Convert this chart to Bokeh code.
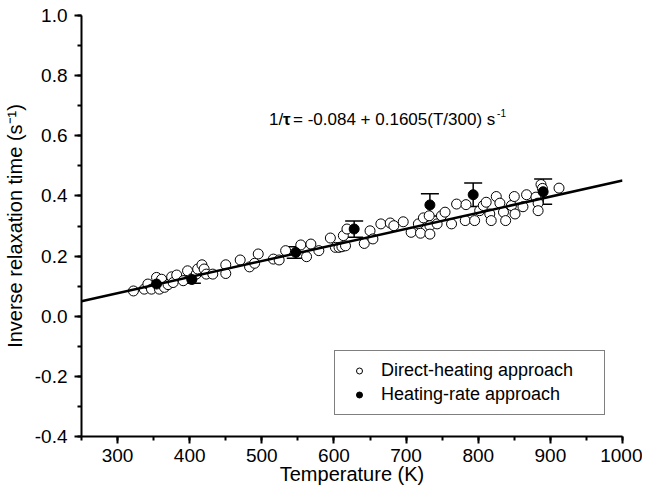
from bokeh.plotting import figure
from bokeh.models import (Range1d, SingleIntervalTicker, PrintfTickFormatter, ColumnDataSource,
                          Whisker, TeeHead, Legend, LegendItem, Label)
from bokeh.embed import file_html
from bokeh.resources import INLINE

# ---- data ----
T_direct = [322, 337, 342, 347, 354, 358, 361, 365, 370, 375,
            377, 382, 391, 397, 403, 409, 411, 417, 420, 423,
            432, 450, 450, 470, 483, 490, 495, 516, 524, 533,
            554, 562, 568, 579, 595, 602, 607, 611, 613, 616,
            618, 642, 650, 654, 665, 678, 683, 696, 707, 717,
            720, 724, 732, 733, 733, 743, 749, 754, 763, 770,
            782, 783, 795, 802, 807, 811, 816, 818, 825, 830,
            835, 838, 846, 850, 851, 862, 867, 880, 883, 883,
            887, 889, 912]
inv_tau_direct = [0.084, 0.090, 0.107, 0.090, 0.129, 0.090, 0.123, 0.096, 0.105, 0.131,
                  0.112, 0.137, 0.118, 0.151, 0.125, 0.140, 0.157, 0.171, 0.157, 0.140,
                  0.140, 0.171, 0.142, 0.187, 0.164, 0.176, 0.207, 0.190, 0.187, 0.218,
                  0.237, 0.198, 0.240, 0.218, 0.260, 0.229, 0.229, 0.231, 0.268, 0.234,
                  0.290, 0.242, 0.284, 0.257, 0.307, 0.310, 0.301, 0.314, 0.279, 0.307,
                  0.276, 0.327, 0.334, 0.301, 0.273, 0.307, 0.334, 0.346, 0.307, 0.373,
                  0.318, 0.371, 0.318, 0.351, 0.368, 0.379, 0.340, 0.318, 0.398, 0.376,
                  0.346, 0.318, 0.368, 0.398, 0.340, 0.364, 0.404, 0.396, 0.376, 0.351,
                  0.438, 0.425, 0.426]

T_rate = [354, 403, 547, 628, 733, 793, 890]
inv_tau_rate = [0.107, 0.122, 0.212, 0.290, 0.370, 0.404, 0.414]
err_rate = [0.010, 0.012, 0.019, 0.027, 0.037, 0.039, 0.042]

fit_intercept = -0.084
fit_slope = 0.1605
fit_T = [250, 1000]
fit_y = [fit_intercept + fit_slope * t / 300 for t in fit_T]

x_ticks_interval = 100
y_ticks_interval = 0.2

FONT = "Liberation Sans"

p = figure(width=642, height=487, output_backend="svg", toolbar_location=None,
           x_range=Range1d(250, 1000), y_range=Range1d(-0.4, 1.0),
           min_border_left=78, min_border_right=20, min_border_top=15, min_border_bottom=0)
p.outline_line_color = None
p.grid.visible = False
p.background_fill_color = "white"
p.border_fill_color = "white"

# axes
p.xaxis.ticker = SingleIntervalTicker(interval=x_ticks_interval, num_minor_ticks=2)
p.yaxis.ticker = SingleIntervalTicker(interval=y_ticks_interval, num_minor_ticks=2)
p.yaxis.formatter = PrintfTickFormatter(format="%.1f")
p.xaxis.axis_label = "Temperature (K)"
p.yaxis.axis_label = "Inverse relaxation time (s\u207b\u00b9)"
for ax in (p.xaxis[0], p.yaxis[0]):
    ax.axis_line_width = 2
    ax.axis_line_color = "black"
    ax.major_tick_line_width = 2
    ax.minor_tick_line_width = 2
    ax.major_tick_line_color = "black"
    ax.minor_tick_line_color = "black"
    ax.major_tick_out = 7
    ax.major_tick_in = 0
    ax.minor_tick_out = 4
    ax.minor_tick_in = 0
    ax.major_label_text_font = FONT
    ax.major_label_text_font_size = "19px"
    ax.major_label_text_color = "black"
    ax.axis_label_text_font = FONT
    ax.axis_label_text_font_size = "20px"
    ax.axis_label_text_font_style = "normal"
    ax.axis_label_text_color = "black"
p.xaxis.major_label_standoff = 5
p.xaxis.axis_label_standoff = -2
p.yaxis.major_label_standoff = 7
p.yaxis.axis_label_standoff = 6

# error bars
src_rate = ColumnDataSource(dict(
    T=T_rate, y=inv_tau_rate,
    upper=[v + e for v, e in zip(inv_tau_rate, err_rate)],
    lower=[v - e for v, e in zip(inv_tau_rate, err_rate)]))
wh = Whisker(base="T", upper="upper", lower="lower", source=src_rate,
             line_width=1.5, line_color="black",
             upper_head=TeeHead(size=18, line_width=1.5, line_color="black"),
             lower_head=TeeHead(size=18, line_width=1.5, line_color="black"))
p.add_layout(wh)

# direct-heating open circles
r_open = p.scatter(T_direct, inv_tau_direct, marker="circle", size=10,
                   fill_color="white", line_color="black", line_width=1)

# fit line
p.line(fit_T, fit_y, line_width=2.5, line_color="black")

# heating-rate filled circles
r_fill = p.scatter("T", "y", source=src_rate, marker="circle", size=10,
                   fill_color="black", line_color="black")

# legend
legend = Legend(items=[LegendItem(label="Direct-heating approach", renderers=[r_open]),
                       LegendItem(label="Heating-rate approach", renderers=[r_fill])],
                location=(253, 21), margin=0, padding=9, spacing=3,
                glyph_width=30, glyph_height=15, label_height=19, label_width=214,
                label_standoff=7, label_text_font=FONT, label_text_font_size="18px",
                label_text_color="black", border_line_color="black", border_line_width=1.5,
                background_fill_color="white", background_fill_alpha=1.0)
p.add_layout(legend)

# annotation: 1/τ = -0.084 + 0.1605(T/300) s^-1
ax_x, ax_y = 510, 0.653
fs = "17px"
p.add_layout(Label(x=ax_x, y=ax_y, text="1/", text_font=FONT, text_font_size=fs,
                   text_baseline="middle", text_color="black"))
p.add_layout(Label(x=ax_x, y=ax_y, x_offset=14, text="\u03c4", text_font=FONT, text_font_size=fs,
                   text_font_style="bold", text_baseline="middle", text_color="black"))
p.add_layout(Label(x=ax_x, y=ax_y, x_offset=24,
                   text=" = %.3f + %.4f(T/300) s" % (fit_intercept, fit_slope),
                   text_font=FONT, text_font_size=fs, text_baseline="middle", text_color="black"))
p.add_layout(Label(x=ax_x, y=ax_y, x_offset=228, y_offset=7, text="-1", text_font=FONT,
                   text_font_size="10px", text_baseline="middle", text_color="black"))

open("out.html", "w").write(file_html(p, INLINE))
